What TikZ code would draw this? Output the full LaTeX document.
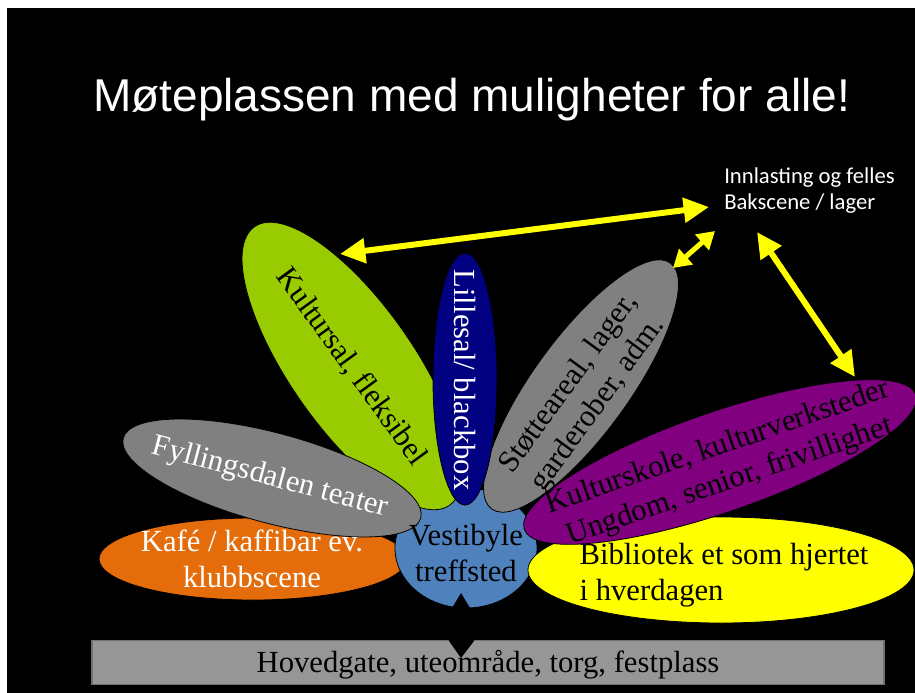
\documentclass[tikz,border=0pt]{standalone}
\usepackage{fontspec}
\setmainfont{Liberation Serif}
\newfontfamily\titlefont{Liberation Sans}
\newfontfamily\calfont{Carlito}
\usetikzlibrary{shapes.geometric,arrows.meta}
\definecolor{korange}{HTML}{E46C0A}
\definecolor{kblue}{HTML}{4F81BD}
\definecolor{kgreen}{HTML}{99CC00}
\definecolor{knavy}{HTML}{000080}
\definecolor{kgrey}{HTML}{808080}
\definecolor{kpurple}{HTML}{800080}
\definecolor{kyellow}{HTML}{FFFF00}
\definecolor{kbar}{HTML}{969696}
\definecolor{kbarline}{HTML}{707070}
\begin{document}
\begin{tikzpicture}[x=0.75pt,y=-0.75pt,
  petal/.style={ellipse, draw=black, line width=0.6pt, inner sep=0pt},
  ptext/.style={font=\fontsize{23}{27}\selectfont, align=center, inner sep=0pt},
  yarrow/.style={draw=kyellow, line width=4.5pt, {Triangle[length=19pt,width=18pt]}-{Triangle[length=19pt,width=18pt]}},
  ysmall/.style={draw=kyellow, line width=3.8pt, {Triangle[length=13pt,width=15pt]}-{Triangle[length=13pt,width=15pt]}}]
\useasboundingbox (0,0) rectangle (915,693);
\fill[white] (0,0) rectangle (915,693);
\fill[black] (7,8) rectangle (915,693);

% title
\node[anchor=base west, inner sep=0pt, text=white, font=\titlefont\fontsize{34.5}{40}\selectfont] (title) at (93,111) {Møteplassen med muligheter for alle!};

% bottom bar
\node[draw=kbarline, fill=kbar, line width=0.8pt, minimum width=594pt, minimum height=33pt, inner sep=0pt] (bar) at (488,662.5) {};

% petals
\node[petal, fill=korange, minimum width=231pt, minimum height=61.5pt] (kafe) at (253,559) {};
\node[petal, fill=kblue, minimum width=106.5pt, minimum height=90pt] (vest) at (466,548) {};
\node[petal, fill=kgreen, minimum width=255pt, minimum height=93pt, rotate=-55] (kult) at (352,366) {};
\node[petal, fill=kgrey, minimum width=231pt, minimum height=67.5pt, rotate=-15] (fyll) at (272,478) {};
\node[petal, fill=kgrey, minimum width=228pt, minimum height=72pt, rotate=54] (stot) at (581,386) {};
\node[petal, fill=knavy, minimum width=48pt, minimum height=189pt] (lill) at (465,379) {};
\node[petal, fill=kyellow, minimum width=289.5pt, minimum height=79.5pt] (bib) at (721,570) {};
\node[petal, fill=kpurple, minimum width=310.5pt, minimum height=75pt, rotate=19] (ksk) at (720,462) {};

% notch
\fill[black] (461,593) -- (470,608) -- (474,641) -- (461,658) -- (449,641) -- (452,608) -- cycle;

% texts
\node[ptext, text=white] (kafet) at (252,559) {Kafé / kaffibar ev.\\klubbscene};
\node[ptext] (vestt) at (466,553) {Vestibyle\\treffsted};
\node[ptext, text=white, rotate=-15] (fyllt) at (270,478) {Fyllingsdalen teater};
\node[ptext, rotate=-54] (kultt) at (351,367) {Kultursal, fleksibel};
\node[ptext, text=white, rotate=-90] (lillt) at (465,380) {Lillesal/ blackbox};
\node[ptext, rotate=54] (stott) at (584,394) {Støtteareal, lager,\\garderober, adm.};
\node[ptext, rotate=19] (kskt) at (724,465) {Kulturskole, kulturverksteder\\Ungdom, senior, frivillighet};
\node[ptext, align=left] (bibt) at (724,575) {Bibliotek et som hjertet\\i hverdagen};
\node[ptext] (bart) at (488,665) {Hovedgate, uteområde, torg, festplass};

\node[anchor=north west, inner sep=0pt, align=left, text=white, font=\calfont\fontsize{17}{20}\selectfont] (lager) at (724,167) {Innlasting og felles\\Bakscene / lager};

% arrows
\coordinate (a1s) at (340,254);
\coordinate (a1e) at (709,207);
\coordinate (a2s) at (673,268);
\coordinate (a2e) at (715,231);
\coordinate (a3s) at (757,232);
\coordinate (a3e) at (855,377);
\draw[yarrow] (a1s) -- (a1e);
\draw[ysmall] (a2s) -- (a2e);
\draw[yarrow] (a3s) -- (a3e);
\end{tikzpicture}
\end{document}
